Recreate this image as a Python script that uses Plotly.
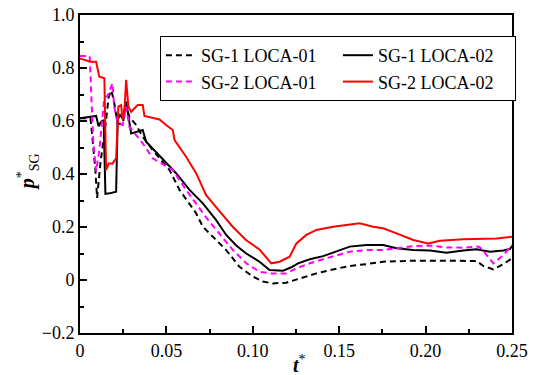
import plotly.graph_objects as go

# ---- data ----
t_sg1_01 = [0, 0.006, 0.0064, 0.0079, 0.0089, 0.0099, 0.0118, 0.0151, 0.0166, 0.0181, 0.0195, 0.0218,
            0.0247, 0.0267, 0.0286, 0.0325, 0.0363, 0.0421, 0.0518, 0.0576, 0.0672, 0.0711, 0.0769,
            0.0846, 0.0923, 0.1, 0.1058, 0.1116, 0.1194, 0.1271, 0.1368, 0.1464, 0.1561, 0.1658,
            0.1754, 0.1928, 0.2122, 0.2295, 0.2334, 0.2392, 0.245, 0.25]
p_sg1_01 = [0.61, 0.61, 0.59, 0.49, 0.415, 0.31, 0.44, 0.604, 0.692, 0.715, 0.68, 0.59,
            0.59, 0.654, 0.616, 0.585, 0.54, 0.49, 0.415, 0.34, 0.252, 0.201, 0.164,
            0.113, 0.05, 0.013, -0.006, -0.013, -0.01, 0.006, 0.025, 0.04, 0.053, 0.06,
            0.069, 0.073, 0.072, 0.072, 0.053, 0.04, 0.06, 0.082]

t_sg1_02 = [0, 0.0064, 0.0093, 0.0108, 0.0122, 0.0137, 0.0147, 0.017, 0.0209, 0.0218, 0.0232,
            0.0247, 0.0267, 0.0296, 0.0363, 0.0383, 0.048, 0.0556, 0.0634, 0.0711, 0.0788,
            0.0846, 0.0904, 0.0962, 0.1039, 0.1097, 0.1175, 0.1223, 0.1262, 0.133, 0.1407,
            0.1484, 0.1561, 0.1658, 0.1754, 0.1832, 0.1928, 0.2025, 0.2121, 0.2218, 0.2295,
            0.2324, 0.2373, 0.245, 0.2488, 0.25]
p_sg1_02 = [0.61, 0.616, 0.619, 0.58, 0.597, 0.604, 0.325, 0.327, 0.333, 0.604, 0.623,
            0.61, 0.673, 0.553, 0.566, 0.522, 0.453, 0.403, 0.34, 0.289, 0.226,
            0.17, 0.13, 0.1, 0.069, 0.038, 0.035, 0.048, 0.063, 0.078, 0.09,
            0.107, 0.126, 0.132, 0.132, 0.12, 0.113, 0.111, 0.103, 0.111, 0.116,
            0.112, 0.107, 0.111, 0.117, 0.128]

t_sg2_01 = [0, 0.0056, 0.0062, 0.0077, 0.0093, 0.0112, 0.0141, 0.016, 0.0188, 0.0198, 0.0218,
            0.0247, 0.0267, 0.0286, 0.0363, 0.0421, 0.0537, 0.0614, 0.0731, 0.0807, 0.0885,
            0.0962, 0.1039, 0.1107, 0.1194, 0.1252, 0.133, 0.1426, 0.1561, 0.1658, 0.1754,
            0.1832, 0.1928, 0.2025, 0.2121, 0.2218, 0.2305, 0.2324, 0.2392, 0.245, 0.25]
p_sg2_01 = [0.845, 0.845, 0.75, 0.52, 0.41, 0.49, 0.69, 0.695, 0.742, 0.654, 0.59,
            0.585, 0.654, 0.578, 0.516, 0.459, 0.415, 0.34, 0.235, 0.176, 0.113,
            0.063, 0.031, 0.025, 0.025, 0.044, 0.063, 0.082, 0.107, 0.113, 0.113,
            0.12, 0.128, 0.13, 0.123, 0.122, 0.126, 0.118, 0.063, 0.094, 0.132]

t_sg2_02 = [0, 0.006, 0.0093, 0.0112, 0.0141, 0.0151, 0.0166, 0.0189, 0.0209, 0.0222, 0.0238,
            0.0247, 0.0257, 0.0267, 0.028, 0.0296, 0.0334, 0.0363, 0.0373, 0.046, 0.0498,
            0.0537, 0.0547, 0.0614, 0.0672, 0.073, 0.0807, 0.0885, 0.0962, 0.1039, 0.1107,
            0.1155, 0.1213, 0.1252, 0.131, 0.1368, 0.1464, 0.1561, 0.1619, 0.1696, 0.1754,
            0.1832, 0.1928, 0.2015, 0.2083, 0.2218, 0.2315, 0.2411, 0.25]
p_sg2_02 = [0.836, 0.824, 0.824, 0.767, 0.761, 0.415, 0.44, 0.44, 0.459, 0.654, 0.66,
            0.604, 0.64, 0.755, 0.654, 0.635, 0.66, 0.66, 0.619, 0.606, 0.585,
            0.566, 0.528, 0.465, 0.403, 0.32, 0.26, 0.2, 0.15, 0.115, 0.063,
            0.069, 0.088, 0.138, 0.17, 0.189, 0.201, 0.208, 0.214, 0.201, 0.195,
            0.176, 0.151, 0.138, 0.148, 0.154, 0.155, 0.157, 0.163]

x_tickvals = [0, 0.05, 0.10, 0.15, 0.20, 0.25]
x_ticktext = ["0", "0.05", "0.10", "0.15", "0.20", "0.25"]
y_tickvals = [-0.2, 0, 0.2, 0.4, 0.6, 0.8, 1.0]
y_ticktext = ["\u22120.2", "0", "0.2", "0.4", "0.6", "0.8", "1.0"]

FONT = "Liberation Serif, Times New Roman, serif"

fig = go.Figure()
fig.add_trace(go.Scatter(x=t_sg1_01, y=p_sg1_01, mode="lines", name="SG-1 LOCA-01",
                         line=dict(color="black", width=2, dash="6px,4px")))
fig.add_trace(go.Scatter(x=t_sg1_02, y=p_sg1_02, mode="lines", name="SG-1 LOCA-02",
                         line=dict(color="black", width=2)))
fig.add_trace(go.Scatter(x=t_sg2_01, y=p_sg2_01, mode="lines", name="SG-2 LOCA-01",
                         line=dict(color="#ff00ff", width=2, dash="6px,4px")))
fig.add_trace(go.Scatter(x=t_sg2_02, y=p_sg2_02, mode="lines", name="SG-2 LOCA-02",
                         line=dict(color="#ff0000", width=2)))

axis_common = dict(showline=True, linecolor="black", linewidth=2, mirror=True,
                   showgrid=False, zeroline=False, ticks="inside", ticklen=7,
                   tickwidth=2, tickcolor="black", automargin=False,
                   tickfont=dict(family=FONT, size=18, color="black"))

fig.update_xaxes(range=[0, 0.25], tickvals=x_tickvals, ticktext=x_ticktext,
                 minor=dict(ticks="inside", dtick=0.025, tick0=0, ticklen=4, tickwidth=2,
                            tickcolor="black"),
                 **axis_common)
fig.update_yaxes(range=[-0.2, 1.0], tickvals=y_tickvals, ticktext=y_ticktext,
                 minor=dict(ticks="inside", dtick=0.1, tick0=0, ticklen=4, tickwidth=2,
                            tickcolor="black"),
                 **axis_common)

fig.update_layout(
    width=536, height=375,
    margin=dict(l=80, r=24, t=15, b=42),
    plot_bgcolor="white", paper_bgcolor="white",
    font=dict(family=FONT, size=18, color="black"),
    legend=dict(orientation="h", x=0.185, y=0.934, xanchor="left", yanchor="top",
                entrywidth=132, entrywidthmode="pixels",
                bgcolor="white", bordercolor="black", borderwidth=1,
                font=dict(family=FONT, size=18, color="black"),
                tracegroupgap=0, itemwidth=30),
    showlegend=True,
    annotations=[
        dict(text="<b><i>t</i></b><sup>*</sup>", xref="paper", yref="paper",
             x=0.508, y=0, yshift=-31, xanchor="center", yanchor="middle",
             showarrow=False, font=dict(family=FONT, size=20, color="black")),
        dict(text="<b><i>p</i></b><sup>*</sup><sub>SG</sub>", xref="paper", yref="paper",
             x=-0.12, y=0.506, xanchor="center", yanchor="middle", textangle=-90,
             showarrow=False, font=dict(family=FONT, size=20, color="black")),
    ],
)

fig.write_html("out.html",
               config={"displayModeBar": False},
               post_script="document.body.style.margin='0';document.body.style.overflow='hidden';")
